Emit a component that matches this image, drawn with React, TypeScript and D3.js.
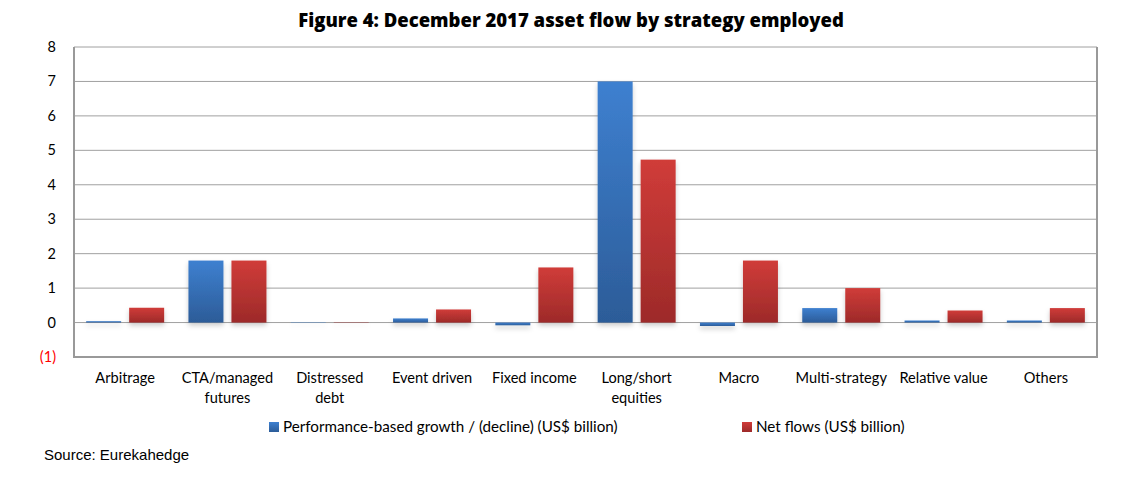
import { useRef, useEffect } from 'react';
import * as d3 from 'd3';

const categories = [
  ['Arbitrage'],
  ['CTA/managed', 'futures'],
  ['Distressed', 'debt'],
  ['Event driven'],
  ['Fixed income'],
  ['Long/short', 'equities'],
  ['Macro'],
  ['Multi-strategy'],
  ['Relative value'],
  ['Others'],
];
const performance = [0.04, 1.8, -0.01, 0.12, -0.08, 7.0, -0.1, 0.42, 0.06, 0.06];
const netFlows = [0.43, 1.8, 0.01, 0.38, 1.6, 4.73, 1.8, 1.0, 0.35, 0.42];
const yTicks = [-1, 0, 1, 2, 3, 4, 5, 6, 7, 8];
const seriesNames = ['Performance-based growth / (decline) (US$ billion)', 'Net flows (US$ billion)'];

const W = 1125;
const H = 481;
const FONT = 'Lato, "Open Sans", sans-serif';

export default function App() {
  const svgRef = useRef<SVGSVGElement>(null);

  useEffect(() => {
    if (!svgRef.current) return;
    const svg = d3.select(svgRef.current);
    svg.selectAll('*').remove();

    const margin = { left: 74, right: 28, top: 47, bottom: 124 };
    const plotW = W - margin.left - margin.right;
    const plotH = H - margin.top - margin.bottom;

    const x = d3.scaleBand<number>().domain(d3.range(categories.length)).range([0, plotW]);
    const y = d3.scaleLinear().domain([-1, 8]).range([plotH, 0]);
    const barW = 35;
    const gap = 8;

    const defs = svg.append('defs');
    const grads = [
      { id: 'gBlue', top: '#3e80d0', bottom: '#2c5c98' },
      { id: 'gRed', top: '#d03c39', bottom: '#9d2a29' },
    ];
    grads.forEach((gd) => {
      const lg = defs.append('linearGradient').attr('id', gd.id).attr('x1', 0).attr('y1', 0).attr('x2', 0).attr('y2', 1);
      lg.append('stop').attr('offset', '0%').attr('stop-color', gd.top);
      lg.append('stop').attr('offset', '100%').attr('stop-color', gd.bottom);
    });
    const f = defs.append('filter').attr('id', 'shadow').attr('x', '-20%').attr('y', '-20%').attr('width', '140%').attr('height', '140%');
    f.append('feDropShadow').attr('dx', 0).attr('dy', 3).attr('stdDeviation', 2.5).attr('flood-color', '#000').attr('flood-opacity', 0.2);

    // Title
    svg.append('text')
      .attr('x', 571)
      .attr('y', 27)
      .attr('text-anchor', 'middle')
      .attr('font-family', '"Open Sans", sans-serif')
      .attr('font-weight', 800)
      .attr('font-size', '18.5px')
      .attr('fill', '#000')
      .text('Figure 4: December 2017 asset flow by strategy employed');

    const g = svg.append('g').attr('transform', `translate(${margin.left},${margin.top})`);

    // Gridlines
    g.selectAll('line.grid')
      .data(yTicks.filter((t) => t > -1))
      .join('line')
      .attr('class', 'grid')
      .attr('x1', 0)
      .attr('x2', plotW)
      .attr('y1', (d) => y(d))
      .attr('y2', (d) => y(d))
      .attr('stroke', '#a0a0a0')
      .attr('stroke-width', 1);

    // Frame (left, bottom, right)
    g.append('path')
      .attr('d', `M0,0V${plotH}H${plotW}V0`)
      .attr('fill', 'none')
      .attr('stroke', '#999')
      .attr('stroke-width', 2);

    // Y tick labels
    g.selectAll('text.ytick')
      .data(yTicks)
      .join('text')
      .attr('class', 'ytick')
      .attr('x', -18)
      .attr('y', (d) => y(d) + 5)
      .attr('text-anchor', 'end')
      .attr('font-family', FONT)
      .attr('font-size', '14.5px')
      .attr('fill', (d) => (d < 0 ? '#ff0000' : '#000'))
      .text((d) => (d < 0 ? `(${Math.abs(d)})` : `${d}`));

    // Bars
    const series = [
      { values: performance, fill: 'url(#gBlue)', offset: -gap / 2 - barW },
      { values: netFlows, fill: 'url(#gRed)', offset: gap / 2 },
    ];
    series.forEach((s) => {
      g.append('g')
        .attr('filter', 'url(#shadow)')
        .selectAll('rect')
        .data(s.values)
        .join('rect')
        .attr('x', (_, i) => (x(i) ?? 0) + x.bandwidth() / 2 + s.offset)
        .attr('width', barW)
        .attr('y', (d) => y(Math.max(0, d)))
        .attr('height', (d) => Math.abs(y(d) - y(0)))
        .attr('fill', s.fill);
    });

    // Category labels
    categories.forEach((lines, i) => {
      const t = g.append('text')
        .attr('x', (x(i) ?? 0) + x.bandwidth() / 2)
        .attr('y', plotH + 26)
        .attr('text-anchor', 'middle')
        .attr('font-family', FONT)
        .attr('font-size', '14.6px')
        .attr('fill', '#000');
      lines.forEach((ln, j) => {
        t.append('tspan')
          .attr('x', (x(i) ?? 0) + x.bandwidth() / 2)
          .attr('dy', j === 0 ? 0 : 20)
          .text(ln);
      });
    });

    // Legend
    const legendX = [269, 742];
    seriesNames.forEach((name, i) => {
      svg.append('rect')
        .attr('x', legendX[i])
        .attr('y', 422)
        .attr('width', 10)
        .attr('height', 10)
        .attr('fill', i === 0 ? 'url(#gBlue)' : 'url(#gRed)');
      svg.append('text')
        .attr('x', legendX[i] + 14)
        .attr('y', 432)
        .attr('font-family', FONT)
        .attr('font-size', '15.2px')
        .attr('fill', '#000')
        .text(name);
    });

    // Source
    svg.append('text')
      .attr('x', 44)
      .attr('y', 460)
      .attr('font-family', '"Liberation Sans", Arial, sans-serif')
      .attr('font-size', '15px')
      .attr('fill', '#000')
      .text('Source: Eurekahedge');
  }, []);

  return (
    <svg
      ref={svgRef}
      width={W}
      height={H}
      style={{ display: 'block', position: 'absolute', left: 0, top: 0, background: '#fff' }}
    />
  );
}
